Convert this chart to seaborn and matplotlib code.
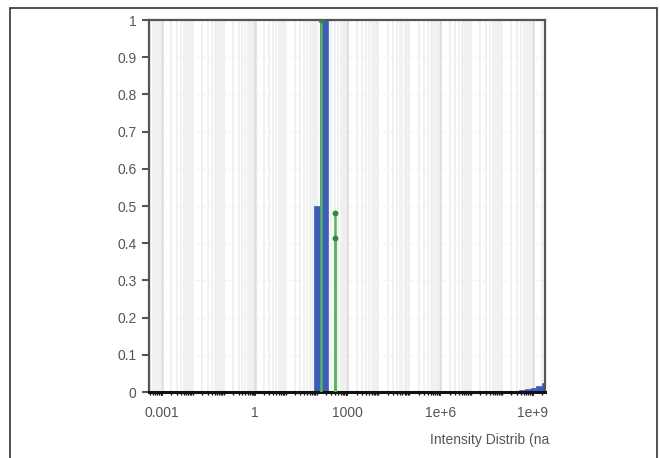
import numpy as np
import matplotlib
matplotlib.use("Agg")
import matplotlib.pyplot as plt
import seaborn as sns
from matplotlib.ticker import FixedLocator, LogLocator, NullFormatter
from matplotlib.patches import Rectangle

# Size-distribution bins (nm): left/right edges and intensity of each bin
main_left = [85, 129]
main_right = [129, 240]
main_height = [0.5, 1.0]

tail_left = [9.0e7, 1.4e8, 2.2e8, 3.5e8, 5.5e8, 8.5e8, 1.3e9, 1.9e9]
tail_right = [1.4e8, 2.2e8, 3.5e8, 5.5e8, 8.5e8, 1.3e9, 1.9e9, 2.3e9]
tail_height = [0.002, 0.003, 0.004, 0.006, 0.008, 0.011, 0.016, 0.024]

# Fitted peak positions (nm) and their intensities
peak_x = [143, 390, 390]
peak_y = [1.0, 0.48, 0.414]

# Axis ticks
ytick_vals = [0, 0.1, 0.2, 0.3, 0.4, 0.5, 0.6, 0.7, 0.8, 0.9, 1.0]
ytick_labels = ["0", "0.1", "0.2", "0.3", "0.4", "0.5", "0.6", "0.7", "0.8", "0.9", "1"]
xtick_vals = [1e-3, 1, 1e3, 1e6, 1e9]
xtick_labels = ["0.001", "1", "1000", "1e+6", "1e+9"]

sns.set_style("white")
plt.rcParams["font.family"] = ["Liberation Sans", "DejaVu Sans"]

fig = plt.figure(figsize=(6.6, 4.58), dpi=100)
ax = fig.add_axes([149 / 660, 1 - 392 / 458, (545 - 149) / 660, (392 - 20) / 458])

blue = "#3e5cbf"
green_line = "#55b84f"
green_mark = "#2f8a3a"

ax.set_xscale("log")
ax.set_xlim(10 ** -3.42, 10 ** 9.39)
ax.set_ylim(0, 1.0)

# vertical grid at every minor decade step, horizontal faint grid
ax.xaxis.set_minor_locator(LogLocator(base=10, subs=np.arange(1, 10), numticks=200))
ax.xaxis.set_minor_formatter(NullFormatter())
ax.xaxis.set_major_locator(FixedLocator(xtick_vals))
ax.set_xticklabels(xtick_labels)
ax.grid(which="minor", axis="x", color="#eeeeee", lw=1.1, zorder=0)
ax.grid(which="major", axis="x", color="#dddddd", lw=1.8, zorder=0)
ax.set_yticks(ytick_vals)
ax.set_yticklabels(ytick_labels)
ax.grid(which="major", axis="y", color="#f0f0f0", lw=0.8, ls=(0, (3, 3)), zorder=0)
ax.set_axisbelow(True)

# distribution bars
ax.bar(main_left, main_height, width=np.array(main_right) - np.array(main_left),
       align="edge", color=blue, edgecolor=blue, lw=0.5, zorder=2)
ax.bar(tail_left, tail_height, width=np.array(tail_right) - np.array(tail_left),
       align="edge", color=blue, edgecolor=blue, lw=0.5, zorder=2)

# fitted peaks as stems with markers
ax.vlines(peak_x, 0, peak_y, color=green_line, lw=1.8, zorder=3)
sns.scatterplot(x=peak_x, y=peak_y, ax=ax, color=green_mark, s=18,
                edgecolor=green_mark, linewidth=0, zorder=4, legend=False)

# spines and ticks
for side in ["left", "top", "right"]:
    ax.spines[side].set_color("#555555")
    ax.spines[side].set_linewidth(1.6)
ax.spines["bottom"].set_color("#111111")
ax.spines["bottom"].set_linewidth(2.2)
ax.tick_params(axis="y", which="major", direction="out", length=5, width=1.5,
               color="#555555", labelsize=10, labelcolor="#555555", pad=4, left=True)
ax.tick_params(axis="x", which="major", direction="out", length=3, width=1.2,
               color="#111111", labelsize=10, labelcolor="#555555", pad=7, bottom=True)
ax.tick_params(axis="x", which="minor", direction="out", length=2.5, width=1.0,
               color="#111111", bottom=True)

fig.text(549 / 660, 1 - 440 / 458, "Intensity Distrib (na", ha="right", va="center",
         fontsize=10, color="#555555")

# outer frame around the figure
fig.patches.append(Rectangle((10 / 660, -0.01), (657 - 10) / 660, 1 - 8 / 458 + 0.01,
                             transform=fig.transFigure, fill=False,
                             edgecolor="#333333", lw=1.2))

fig.savefig("out.png", dpi=100)
